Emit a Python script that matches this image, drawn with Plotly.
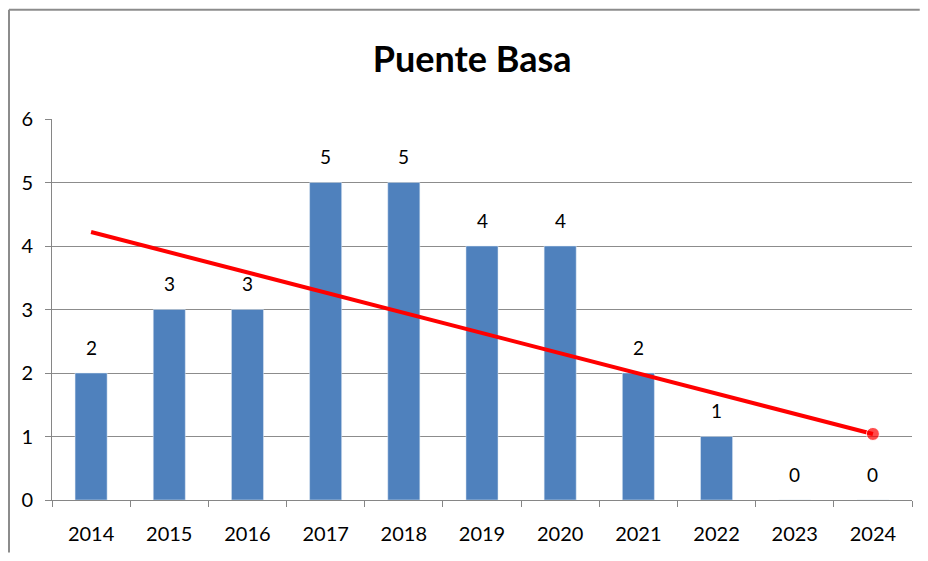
import plotly.graph_objects as go

years = ['2014', '2015', '2016', '2017', '2018', '2019', '2020', '2021', '2022', '2023', '2024']
counts = [2, 3, 3, 5, 5, 4, 4, 2, 1, 0, 0]

# linear trend
trend_years = ['2014', '2024']
trend_values = [4.22, 1.04]

font_family = 'Lato, Open Sans, sans-serif'

fig = go.Figure()
fig.add_trace(go.Bar(x=years, y=counts, marker_color='#4F81BD', showlegend=False))
fig.add_trace(go.Scatter(
    x=trend_years, y=trend_values, mode='lines+markers',
    line=dict(color='#FF0000', width=4),
    marker=dict(color='#FF0000', size=[0, 13]),
    showlegend=False))

# value labels sit well above each bar (x given as category index)
for i, val in enumerate(counts):
    fig.add_annotation(x=i, y=val, xref='x', yref='y', text=str(val), showarrow=False,
                       yshift=26, font=dict(size=19, color='#000000'))

# page body adds 8px around the plot, so the figure is sized 16px smaller
fig.update_layout(
    width=912, height=545,
    margin=dict(l=44, r=8, t=111, b=53, autoexpand=False),
    paper_bgcolor='white', plot_bgcolor='white',
    bargap=0.59,
    font=dict(family=font_family, size=19, color='#000000'),
    title=dict(text='<b>Puente Basa</b>', x=0.509, xanchor='center', y=0.905, yanchor='middle',
               font=dict(size=36, family=font_family, color='#000000')))

fig.update_xaxes(type='category', range=[-0.5, len(years) - 0.5],
                 showline=True, linecolor='#868686', linewidth=1,
                 ticks='outside', tickson='boundaries', ticklen=6, tickcolor='#868686',
                 tickangle=0, ticklabelstandoff=16, tickfont=dict(size=20))
fig.update_yaxes(range=[0, 6], dtick=1, showgrid=True, gridcolor='#8C8C8C', gridwidth=1,
                 showline=True, linecolor='#868686', linewidth=1,
                 ticks='outside', ticklen=6, tickcolor='#868686', zeroline=False,
                 ticklabelstandoff=8, tickfont=dict(size=20))

# outer chart frame: top and left edges, kept inside the figure so the page does not scroll
frame = dict(color='#8C8C8C', width=2)
fig.add_shape(type='line', xref='paper', yref='paper',
              x0=-0.05, x1=1.009, y0=1.287, y1=1.287, line=frame, layer='below')
fig.add_shape(type='line', xref='paper', yref='paper',
              x0=-0.05, x1=-0.05, y0=-0.138, y1=1.287, line=frame, layer='below')

fig.write_html('out.html')
